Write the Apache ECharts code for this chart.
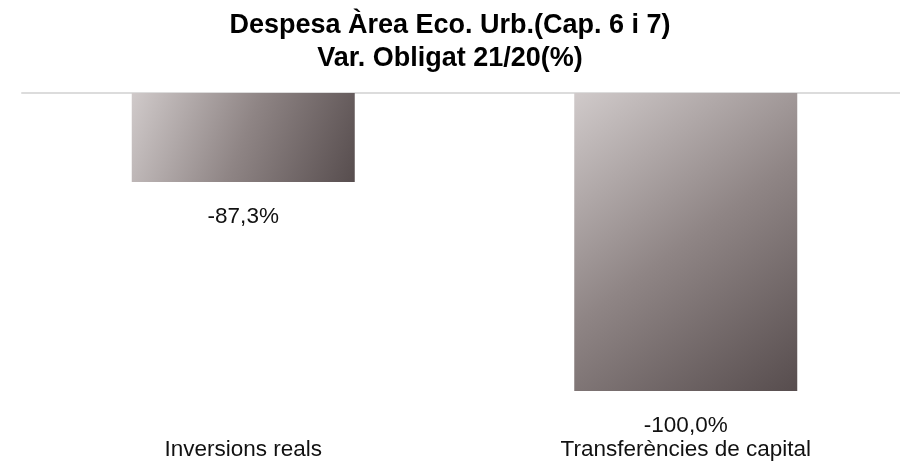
<!DOCTYPE html>
<html>
<head>
<meta charset="utf-8">
<script src="https://cdn.jsdelivr.net/npm/echarts@6/dist/echarts.min.js"></script>
<style>
html, body { margin: 0; padding: 0; background: #fff; }
#chart { width: 900px; height: 463px; }
</style>
</head>
<body>
<div id="chart"></div>
<script>
// dades
var categories = ['Inversions reals', 'Transferències de capital'];
var varObligat = [-87.3, -100.0];
var titleLines = ['Despesa Àrea Eco. Urb.(Cap. 6 i 7)', 'Var. Obligat 21/20(%)'];

var FONT = '"Liberation Sans", Arial, sans-serif';

var myChart = echarts.init(document.getElementById('chart'));
var option = {
    backgroundColor: '#ffffff',
    animation: false,
    title: {
        text: titleLines.join('\n'),
        left: 'center',
        top: 4,
        textStyle: {
            fontFamily: FONT,
            fontWeight: 'bold',
            fontSize: 27,
            lineHeight: 33,
            color: '#000'
        }
    },
    grid: {
        left: 22,
        width: 885,
        top: 93,
        bottom: 72,
        outerBoundsMode: 'none'
    },
    xAxis: [
        {
            // línia superior (eix a 0)
            type: 'category',
            data: categories,
            position: 'top',
            axisLine: { show: true, lineStyle: { color: '#dcdcdc', width: 2 } },
            axisTick: { show: false },
            axisLabel: { show: false }
        },
        {
            // etiquetes a baix
            type: 'category',
            data: categories,
            position: 'bottom',
            axisLine: { show: false },
            axisTick: { show: false },
            axisLabel: {
                margin: 47,
                fontFamily: FONT,
                fontSize: 22.5,
                color: '#111'
            }
        }
    ],
    yAxis: {
        type: 'value',
        min: -100,
        max: -81.9,
        show: false,
        splitLine: { show: false }
    },
    series: [
        {
            type: 'bar',
            xAxisIndex: 0,
            data: varObligat,
            barWidth: 223,
            clip: true,
            itemStyle: {
                color: new echarts.graphic.LinearGradient(0, 0, 1, 1, [
                    { offset: 0, color: '#d0caca' },
                    { offset: 0.5, color: '#8f8585' },
                    { offset: 1, color: '#574d4e' }
                ])
            },
            label: {
                show: true,
                position: 'bottom',
                distance: 23,
                fontFamily: FONT,
                fontSize: 22.5,
                color: '#111',
                formatter: function (p) {
                    return p.value.toFixed(1).replace('.', ',') + '%';
                }
            }
        }
    ]
};
myChart.setOption(option);
window.addEventListener('resize', function () {
    myChart.resize();
});
</script>
</body>
</html>
